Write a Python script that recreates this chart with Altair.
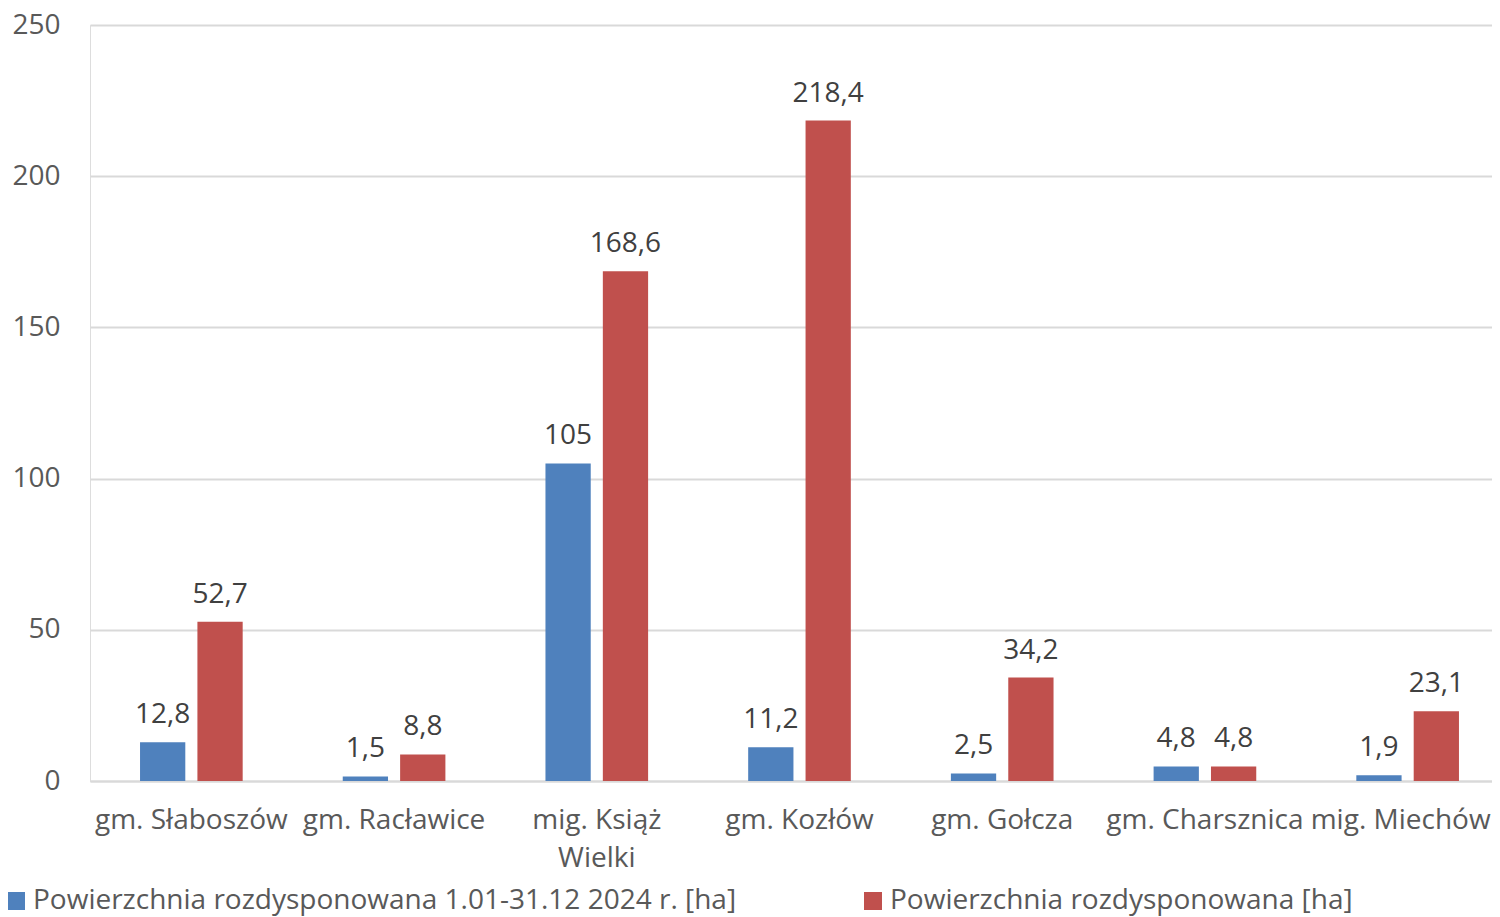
import altair as alt
import pandas as pd

categories = ["gm. Słaboszów", "gm. Racławice", "mig. Książ|Wielki", "gm. Kozłów",
              "gm. Gołcza", "gm. Charsznica", "mig. Miechów"]
series_names = ["Powierzchnia rozdysponowana 1.01-31.12 2024 r. [ha]",
                "Powierzchnia rozdysponowana [ha]"]
series_2024 = [12.8, 1.5, 105, 11.2, 2.5, 4.8, 1.9]
series_total = [52.7, 8.8, 168.6, 218.4, 34.2, 4.8, 23.1]
colors = ["#4F81BD", "#C0504D"]
y_ticks = [0, 50, 100, 150, 200, 250]

rows = []
for c, a, b in zip(categories, series_2024, series_total):
    rows.append({"cat": c, "series": series_names[0], "value": a})
    rows.append({"cat": c, "series": series_names[1], "value": b})
df = pd.DataFrame(rows)

FONT = "Open Sans"
FS = 28

x_enc = alt.X("cat:N", sort=categories, title=None,
              scale=alt.Scale(paddingInner=0, paddingOuter=0, range=[0, 1419]),
              axis=alt.Axis(labelExpr="split(datum.value, '|')", labelAngle=0,
                            ticks=False, domain=True, domainColor="#d9d9d9", domainWidth=2,
                            labelFont=FONT, labelFontSize=FS, labelColor="#595959",
                            labelPadding=25, labelLineHeight=38, labelLimit=300,
                            labelOffset={"expr": "datum.index == 1 ? -7 : 0"}))
xoff_enc = alt.XOffset("series:N", sort=series_names,
                       scale=alt.Scale(paddingInner=0.211, paddingOuter=0.872))
y_enc = alt.Y("value:Q", title=None,
              scale=alt.Scale(domain=[0, 250], nice=False),
              axis=alt.Axis(values=y_ticks, ticks=False, domain=False,
                            grid=True, gridColor="#d9d9d9", gridWidth=2,
                            labelFont=FONT, labelFontSize=FS, labelColor="#595959",
                            labelPadding=30))
color_enc = alt.Color("series:N", sort=series_names,
                      scale=alt.Scale(domain=series_names, range=colors),
                      legend=alt.Legend(title=None, orient="none", legendX=-88, legendY=862,
                                        direction="horizontal", columns=2, padding=0,
                                        symbolType="square", symbolSize=324,
                                        symbolStrokeWidth=0, labelFont=FONT,
                                        labelFontSize=FS, labelColor="#595959",
                                        labelLimit=900, columnPadding=122, labelOffset=3))

base = alt.Chart(df)
bars = base.mark_bar().encode(x=x_enc, xOffset=xoff_enc, y=y_enc, color=color_enc)
labels = base.transform_calculate(
    txt="replace(toString(datum.value), '.', ',')"
).mark_text(font=FONT, fontSize=FS, color="#404040", baseline="middle", dy=-27).encode(
    x=alt.X("cat:N", sort=categories), xOffset=alt.XOffset("series:N", sort=series_names),
    y="value:Q", text="txt:N")

chart = alt.layer(bars, labels).properties(
    width=1402, height=756,
    autosize=alt.AutoSizeParams(type="none"),
    padding={"left": 82, "top": 17, "right": 0, "bottom": 136},
).configure_view(stroke=None).configure(background="white")

chart.save("out.html", embed_options={"renderer": "svg", "actions": False})
